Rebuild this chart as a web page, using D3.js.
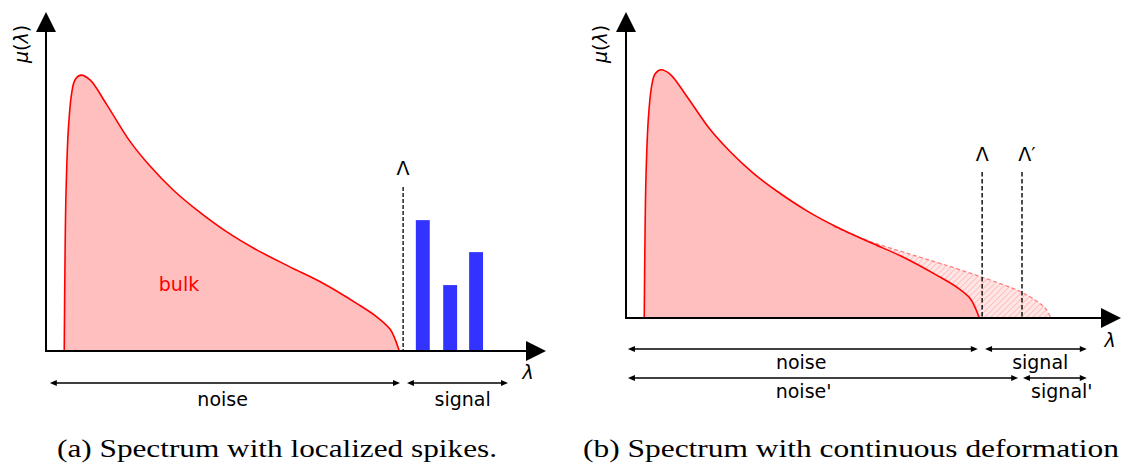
<!DOCTYPE html>
<html>
<head>
<meta charset="utf-8">
<script src="https://cdn.jsdelivr.net/npm/d3@7"></script>
<style>
  html, body { margin: 0; padding: 0; background: #fff; }
  svg { display: block; }
</style>
</head>
<body>
<svg id="chart" width="1122" height="465"></svg>
<script>
// ---------- data ----------
// bulk spectral density (same shape in both panels)
const bulkLambda = [0.38, 0.396, 0.417, 0.465, 0.535, 0.604, 0.723, 0.917, 1.265, 1.75, 2.167, 2.65, 3.14, 3.76, 4.39, 5.08, 5.78, 6.47, 6.89, 7.17, 7.27, 7.36];
const bulkMu     = [0.0, 2.84, 4.94, 6.91, 8.06, 8.47, 8.62, 8.47, 7.70, 6.55, 5.78, 5.03, 4.41, 3.73, 3.16, 2.63, 2.11, 1.49, 1.07, 0.68, 0.38, 0.0];
// deformed tail (panel b)
const deformLambda = [4.32, 5.08, 5.85, 6.54, 7.375, 8.21, 8.56, 8.76, 8.85];
const deformMu     = [3.18, 2.66, 2.25, 1.90, 1.44, 0.92, 0.58, 0.29, 0.0];
// localized spikes (panel a)
const spikeLambda = [7.85, 8.42, 8.96];
const spikeMu     = [4.09, 2.06, 3.09];
const spikeWidth  = 0.29;
// thresholds
const thresholdA = 7.44;
const thresholdB = [7.42, 8.25];
const thresholdBLabels = ["Λ", "Λ′"];
// ranges (arrows) and labels
const rangesA = [
  {label: "noise",  from: 0.08, to: 7.375, labelAt: 3.68},
  {label: "signal", from: 7.52, to: 9.625, labelAt: 8.68}
];
const rangesB = [
  {label: "noise",   from: 0.04, to: 7.33, labelAt: 3.65, row: 0},
  {label: "signal",  from: 7.48, to: 9.6,  labelAt: 8.63, row: 0},
  {label: "noise'",  from: 0.04, to: 8.17, labelAt: 3.70, row: 1},
  {label: "signal'", from: 8.27, to: 9.6,  labelAt: 9.08, row: 1}
];
const captions = ["(a) Spectrum with localized spikes.", "(b) Spectrum with continuous deformation"];

// ---------- drawing ----------
const svg = d3.select("#chart");
const SANS = "DejaVu Sans, sans-serif";
const FS = 19;
const CURVE = d3.curveCatmullRom.alpha(0.5);

const defs = svg.append("defs");
const pat = defs.append("pattern").attr("id", "hatch")
  .attr("patternUnits", "userSpaceOnUse").attr("width", 6).attr("height", 6);
pat.append("rect").attr("width", 6).attr("height", 6).attr("fill", "#ffe6e6");
pat.append("path").attr("d", "M-1,1 l2,-2 M0,6 l6,-6 M5,7 l2,-2")
  .attr("stroke", "#ffc0c0").attr("stroke-width", 1.1);

const bulk = bulkLambda.map((l, i) => ({l, m: bulkMu[i]}));
const tail = deformLambda.map((l, i) => ({l, m: deformMu[i]}));
const deformed = bulk.filter(d => d.l < deformLambda[0]).concat(tail);

function axes(g, x0, y0, xTip, yTip) {
  g.append("line").attr("x1", x0).attr("y1", y0).attr("x2", xTip - 19).attr("y2", y0)
    .attr("stroke", "#000").attr("stroke-width", 2);
  g.append("line").attr("x1", x0).attr("y1", y0 + 1).attr("x2", x0).attr("y2", yTip + 19)
    .attr("stroke", "#000").attr("stroke-width", 2);
  g.append("path").attr("d", `M${xTip},${y0} L${xTip - 20},${y0 - 10} L${xTip - 20},${y0 + 10} Z`).attr("fill", "#000");
  g.append("path").attr("d", `M${x0},${yTip} L${x0 - 10},${yTip + 20} L${x0 + 10},${yTip + 20} Z`).attr("fill", "#000");
}

function muLabel(g, x, y) {
  const t = g.append("text").attr("transform", `translate(${x},${y}) rotate(-90)`)
    .attr("text-anchor", "middle").attr("font-family", SANS).attr("font-size", FS);
  t.append("tspan").attr("font-style", "italic").text("μ");
  t.append("tspan").text("(");
  t.append("tspan").attr("font-style", "italic").text("λ");
  t.append("tspan").text(")");
}
function lamLabel(g, x, y) {
  g.append("text").attr("x", x).attr("y", y).attr("text-anchor", "middle")
    .attr("font-family", SANS).attr("font-size", FS).attr("font-style", "italic").text("λ");
}

function dblArrow(g, x1, x2, y) {
  g.append("line").attr("x1", x1 + 4).attr("x2", x2 - 4).attr("y1", y).attr("y2", y)
    .attr("stroke", "#000").attr("stroke-width", 1.5);
  g.append("path").attr("d", `M${x1},${y} L${x1 + 7},${y - 3} L${x1 + 7},${y + 3} Z`).attr("fill", "#000");
  g.append("path").attr("d", `M${x2},${y} L${x2 - 7},${y - 3} L${x2 - 7},${y + 3} Z`).attr("fill", "#000");
}

function textAt(g, x, y, s, color) {
  g.append("text").attr("x", x).attr("y", y).attr("text-anchor", "middle")
    .attr("font-family", SANS).attr("font-size", FS).attr("fill", color || "#000").text(s);
}

// ===== Panel (a) =====
{
  const g = svg.append("g");
  const x = d3.scaleLinear().domain([0, 10]).range([46, 526]);
  const y = d3.scaleLinear().domain([0, 10]).range([351, 31]);
  const area = d3.area().x(d => x(d.l)).y0(y(0)).y1(d => y(d.m)).curve(CURVE);
  const line = d3.line().x(d => x(d.l)).y(d => y(d.m)).curve(CURVE);

  g.append("path").datum(bulk).attr("d", area).attr("fill", "#ffbfbf");
  g.append("path").datum(bulk).attr("d", line).attr("fill", "none").attr("stroke", "#ff0000").attr("stroke-width", 1.6);

  g.selectAll("rect.spike").data(spikeLambda).join("rect").attr("class", "spike")
    .attr("x", d => x(d - spikeWidth / 2))
    .attr("width", x(spikeWidth) - x(0))
    .attr("y", (d, i) => y(spikeMu[i]))
    .attr("height", (d, i) => y(0) - y(spikeMu[i]))
    .attr("fill", "#3333ff");

  g.append("line").attr("x1", x(thresholdA)).attr("x2", x(thresholdA)).attr("y1", 187).attr("y2", y(0))
    .attr("stroke", "#000").attr("stroke-width", 1.3).attr("stroke-dasharray", "4,2");
  textAt(g, x(thresholdA), 175, "Λ");

  textAt(g, 179, 291, "bulk", "#ff0000");

  axes(g, 46, 351, 546, 12);
  muLabel(g, 28, 44);
  lamLabel(g, 528, 379);

  rangesA.forEach(r => {
    dblArrow(g, x(r.from), x(r.to), 383);
    textAt(g, x(r.labelAt), 406, r.label);
  });
}

// ===== Panel (b) =====
{
  const g = svg.append("g");
  const x = d3.scaleLinear().domain([0, 10]).range([626, 1106]);
  const y = d3.scaleLinear().domain([0, 10]).range([318, 30]);
  const area = d3.area().x(d => x(d.l)).y0(y(0)).y1(d => y(d.m)).curve(CURVE);
  const line = d3.line().x(d => x(d.l)).y(d => y(d.m)).curve(CURVE);

  g.append("path").datum(deformed).attr("d", area).attr("fill", "url(#hatch)");
  g.append("path").datum(bulk).attr("d", area).attr("fill", "#ffbfbf");
  g.append("path").datum(tail).attr("d", line).attr("fill", "none")
    .attr("stroke", "#ff8080").attr("stroke-width", 1.3).attr("stroke-dasharray", "4,2.5");
  g.append("path").datum(bulk).attr("d", line).attr("fill", "none").attr("stroke", "#ff0000").attr("stroke-width", 1.6);

  thresholdB.forEach((t, i) => {
    g.append("line").attr("x1", x(t)).attr("x2", x(t)).attr("y1", 172).attr("y2", y(0))
      .attr("stroke", "#222").attr("stroke-width", 1.6).attr("stroke-dasharray", "4.5,2.5");
    textAt(g, x(t) + (i === 1 ? 5 : 0), 161, thresholdBLabels[i]);
  });

  axes(g, 626, 318, 1121, 12);
  muLabel(g, 607, 44);
  lamLabel(g, 1110, 347);

  rangesB.forEach(r => {
    const ay = r.row === 0 ? 349 : 378;
    dblArrow(g, x(r.from), x(r.to), ay);
    textAt(g, x(r.labelAt), r.row === 0 ? 369 : 398, r.label);
  });
}

// ===== Captions =====
{
  const SERIF = "Liberation Serif, Times New Roman, serif";
  const capA = svg.append("text").attr("x", 57).attr("y", 457)
    .attr("font-family", SERIF).attr("font-size", 25).text(captions[0]);
  const capB = svg.append("text").attr("x", 583).attr("y", 457)
    .attr("font-family", SERIF).attr("font-size", 25).text(captions[1]);
  capA.attr("textLength", 440).attr("lengthAdjust", "spacingAndGlyphs");
  capB.attr("textLength", 536).attr("lengthAdjust", "spacingAndGlyphs");
}
</script>
</body>
</html>
